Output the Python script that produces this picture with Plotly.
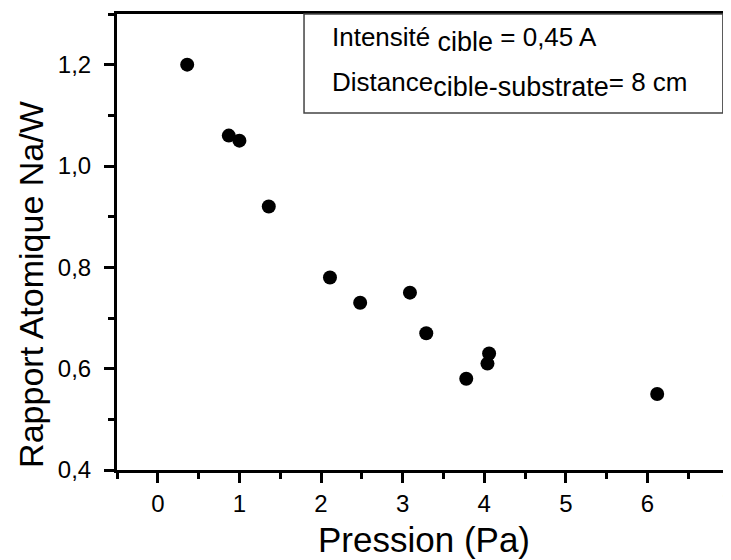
import plotly.graph_objects as go

# pression (Pa) vs rapport atomique Na/W
pression = [0.36, 0.87, 1.00, 1.36, 2.11, 2.48, 3.09, 3.29, 3.78, 4.04, 4.06, 6.12]
rapport = [1.20, 1.06, 1.05, 0.92, 0.78, 0.73, 0.75, 0.67, 0.58, 0.61, 0.63, 0.55]

x_title = "Pression (Pa)"
y_title = "Rapport Atomique Na/W"
sub = '<sub><span style="font-size:27px">{}</span></sub>'
legend_lines = ["Intensité " + sub.format("cible") + " = 0,45 A",
                "Distance" + sub.format("cible-substrate") + "= 8 cm"]

fig = go.Figure()
fig.add_trace(go.Scatter(x=pression, y=rapport, mode="markers",
                         marker=dict(color="black", size=14), showlegend=False))

axis_common = dict(showline=True, linecolor="black", linewidth=3, mirror=True,
                   ticks="outside", ticklen=10, tickwidth=2.5, tickcolor="black",
                   showgrid=False, zeroline=False, automargin=False,
                   ticklabeloverflow="allow",
                   tickfont=dict(size=24, color="black"))

fig.update_xaxes(range=[-0.5, 7], dtick=1, tick0=0,
                 minor=dict(ticks="outside", ticklen=6, tickwidth=2.5, dtick=0.5, tick0=0.5),
                 **axis_common)
fig.update_yaxes(range=[0.4, 1.3], dtick=0.2, tick0=0.4, tickformat=".1f", ticklabelstandoff=8,
                 minor=dict(ticks="outside", ticklen=6, tickwidth=2.5, dtick=0.1, tick0=0.5),
                 **axis_common)

#axis titles as annotations so they sit exactly where the original has them
fig.add_annotation(xref="paper", yref="paper", x=0.5016, y=-0.152, xanchor="center", yanchor="middle",
                   text=x_title, showarrow=False, font=dict(size=35, color="black"))
fig.add_annotation(xref="paper", yref="paper", x=-0.1405, y=0.406, xanchor="center", yanchor="middle",
                   text=y_title, textangle=-90, showarrow=False, font=dict(size=34, color="black"))

#legend box in the top right corner
fig.add_shape(type="rect", xref="paper", yref="paper", x0=0.3056, x1=0.990, y0=0.783, y1=1.0,
              line=dict(color="#444", width=1.5), fillcolor="white")
fig.add_annotation(xref="paper", yref="paper", x=0.348, y=0.943, xanchor="left", yanchor="middle",
                   text=legend_lines[0], showarrow=False, font=dict(size=26, color="black"))
fig.add_annotation(xref="paper", yref="paper", x=0.348, y=0.846, xanchor="left", yanchor="middle",
                   text=legend_lines[1], showarrow=False, font=dict(size=26, color="black"))

# page body has an 8px margin, so the figure is a bit smaller than the window
fig.update_layout(width=723, height=552, separators=", ",
                  font=dict(family="Liberation Sans, Arial", color="black"),
                  paper_bgcolor="white", plot_bgcolor="white",
                  margin=dict(l=109, r=2, t=6, b=90, autoexpand=False))

fig.write_html("out.html")
